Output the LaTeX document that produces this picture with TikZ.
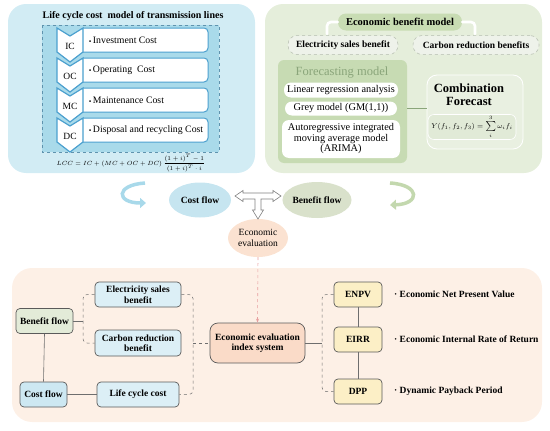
\documentclass[tikz,border=0pt]{standalone}
\usepackage{fontspec}
\setmainfont{Liberation Serif}
\usetikzlibrary{arrows.meta,shapes.geometric,calc}
\definecolor{panelblue}{HTML}{D2ECF4}
\definecolor{dashblue}{HTML}{A9DAEA}
\definecolor{dashline}{HTML}{5F93AE}
\definecolor{itemblue}{HTML}{4BA0CF}
\definecolor{panelgreen}{HTML}{E5EEDB}
\definecolor{fcgreen}{HTML}{C7DBB3}
\definecolor{pillgreen}{HTML}{C8DCB3}
\definecolor{subpill}{HTML}{EEF2EA}
\definecolor{subline}{HTML}{B5BDAF}
\definecolor{fctext}{HTML}{8AA57A}
\definecolor{cbfill}{HTML}{E9F0E1}
\definecolor{cbinner}{HTML}{E1EAD7}
\definecolor{peach}{HTML}{FDF0E6}
\definecolor{costell}{HTML}{C6E5F0}
\definecolor{beneell}{HTML}{D9E1CB}
\definecolor{evalell}{HTML}{FBE2D1}
\definecolor{arrowblue}{HTML}{A8D9EA}
\definecolor{arrowgreen}{HTML}{C3D8AE}
\definecolor{boxgray}{HTML}{5A5A5A}
\definecolor{bfbox}{HTML}{E3EBD8}
\definecolor{cfbox}{HTML}{CDE8F2}
\definecolor{lbbox}{HTML}{DCEFF6}
\definecolor{ixbox}{HTML}{FADBC8}
\definecolor{ylbox}{HTML}{FCEFC6}
\definecolor{pinkline}{HTML}{E7A0A0}
\definecolor{conngray}{HTML}{6E6E6E}
\newcommand{\myszA}{\fontsize{9.5}{10.5}\selectfont}
\newcommand{\myszB}{\fontsize{10.5}{12}\selectfont}
\newcommand{\myszC}{\fontsize{12.5}{13}\selectfont}
\newcommand{\myszD}{\fontsize{10}{11}\selectfont}
\newcommand{\myszE}{\fontsize{10.3}{10.5}\selectfont}
\newcommand{\myszF}{\fontsize{9.8}{10.5}\selectfont}
\begin{document}
\begin{tikzpicture}[x=1pt,y=-1pt,
  bx/.style={draw=boxgray, line width=0.7pt, rounded corners=4pt, font=\myszA\bfseries, align=center, inner sep=1pt},
  ell/.style={ellipse, inner sep=0pt, font=\myszA\bfseries, align=center},
  wbox/.style={fill=white, rounded corners=7pt, inner sep=1pt, font=\myszE, align=center},
  subp/.style={fill=subpill, draw=subline, dashed, line width=0.5pt, rounded corners=9pt, inner sep=1pt, font=\myszA\bfseries},
  dconn/.style={draw=conngray, dashed, line width=0.5pt, rounded corners=4pt},
  sconn/.style={draw=conngray, line width=0.6pt}
]
\useasboundingbox (0,0) rectangle (550,431);

% ---------- top-left panel ----------
\fill[panelblue, rounded corners=18pt] (8,4) rectangle (255,173);
\node[font=\myszD\bfseries] (lcctitle) at (133,16) {Life cycle cost\ \ model of transmission lines};
\filldraw[fill=dashblue, draw=dashline, dashed, line width=0.6pt] (42,25) rectangle (219,152);
\foreach \k/\ab/\txt in {0/IC/Investment Cost, 1/OC/Operating\ \ Cost, 2/MC/Maintenance Cost, 3/DC/Disposal and recycling Cost}{
  \pgfmathsetmacro{\yy}{28+30*\k}
  \filldraw[fill=white, draw=itemblue, line width=1pt, rounded corners=4pt]
    (83,\yy) -- (208,\yy) -- (208,\yy+24) -- (83,\yy+24);
  \filldraw[fill=white, draw=itemblue, line width=1.2pt, line join=miter]
    (57,\yy) -- (70,\yy+8) -- (83,\yy) -- (83,\yy+24) -- (70,\yy+34) -- (57,\yy+24) -- cycle;
  \node[font=\myszA] (ab\k) at (70,\yy+18) {\ab};
  \node[font=\myszF, anchor=west, inner sep=0pt] (it\k) at (89,\yy+12) {{\fontsize{6}{6}\selectfont ▪}\,\txt};
}
\node[inner sep=0pt] (lccf) at (131,163) {\fontsize{6.5}{7}\selectfont $LCC = IC + \left(MC + OC + DC\right)\displaystyle\frac{(1+i)^T-1}{(1+i)^T\cdot i}$};

% ---------- top-right panel ----------
\fill[panelgreen, rounded corners=18pt] (265,4) rectangle (542,173);
\node[fill=pillgreen, rounded corners=8pt, minimum width=124pt, minimum height=17pt, inner sep=1pt, font=\myszB\bfseries] (ebm) at (400,22) {Economic benefit model};
\node[subp, minimum width=110pt, minimum height=19pt] (esp) at (343,45) {Electricity sales benefit};
\node[subp, minimum width=126pt, minimum height=19pt] (crp) at (476,45) {Carbon reduction benefits};
\coordinate (brl) at (327,34);
\coordinate (brr) at (475,34);
\draw[white, line width=2.6pt, rounded corners=4pt, line cap=round] (ebm.west) -| (brl);
\draw[white, line width=2.6pt, rounded corners=4pt, line cap=round] (ebm.east) -| (brr);

\node[fill=fcgreen, rounded corners=6pt, minimum width=129pt, minimum height=103pt, inner sep=0pt] (fcp) at (342.5,111.5) {};
\node[text=fctext, font=\fontsize{12.5}{13}\selectfont, inner sep=0pt] (fct) at (342,73) {Forecasting model};
\node[wbox, minimum width=114pt, minimum height=15pt] (lra) at (341,90) {Linear regression analysis};
\node[wbox, minimum width=112pt, minimum height=14pt] (gm) at (341,108.5) {Grey model (GM(1,1))};
\node[wbox, minimum width=118pt, minimum height=38pt] (arima) at (341,139) {Autoregressive integrated\\moving average model\\(ARIMA)};

\node[fill=cbfill, draw=white, line width=0.8pt, rounded corners=10pt, minimum width=96pt, minimum height=74pt, inner sep=0pt] (cb) at (475,112) {};
\node[font=\myszC\bfseries, align=center, inner sep=0pt] (cbt) at (469,95) {Combination\\Forecast};
\node[fill=cbinner, draw=white, line width=0.6pt, rounded corners=6pt, minimum width=88pt, minimum height=25pt, inner sep=0pt] (cbf) at (472,127)
  {\fontsize{7.5}{8}\selectfont $Y(f_1,f_2,f_3)=\sum\limits_{i}^{3}\omega_i f_i$};
\draw[draw=fctext, line width=0.5pt] (fcp.east |- gm.east) -- (cb.west |- gm.east);

% ---------- middle ----------
\draw[arrowblue, line width=3.5pt, -{Triangle[length=6pt,width=10pt]}] (145,183) .. controls (115,185) and (116,203) .. (146,203);
\draw[arrowgreen, line width=3.5pt, -{Triangle[length=6pt,width=10pt]}] (390,183) .. controls (421,185) and (420,204) .. (390,205);
\node[ell, fill=costell, minimum width=62pt, minimum height=35pt] (cfe) at (200,200) {Cost flow};
\node[ell, fill=beneell, minimum width=64pt, minimum height=36pt] (bfe) at (317,200) {Benefit flow};
\node[ell, fill=evalell, minimum width=60pt, minimum height=38pt, font=\myszA] (eee) at (258,238) {Economic\\evaluation};
\filldraw[fill=white, draw=gray, line width=0.6pt, line join=miter]
  (235,196) -- (243,190.5) -- (243,193) -- (273,193) -- (273,190.5) -- (281,196) -- (273,201.5) -- (273,199)
  -- (261,199) -- (261,210) -- (263.5,210) -- (258,219) -- (252.5,210) -- (255,210) -- (255,199)
  -- (243,199) -- (243,201.5) -- cycle;

% ---------- bottom panel ----------
\fill[peach, rounded corners=20pt] (12,268) rectangle (542,422);
\node[bx, fill=bfbox, minimum width=57pt, minimum height=25pt] (bfb) at (44.5,321) {Benefit flow};
\node[bx, fill=cfbox, minimum width=47pt, minimum height=25pt] (cfb) at (43.5,394.5) {Cost flow};
\node[bx, fill=lbbox, minimum width=86pt, minimum height=25pt] (esb) at (138,294.5) {Electricity sales\\benefit};
\node[bx, fill=lbbox, minimum width=86pt, minimum height=26pt] (crb) at (138,343) {Carbon reduction\\benefit};
\node[bx, fill=lbbox, minimum width=82pt, minimum height=25pt] (lcb) at (138,394.5) {Life cycle cost};
\node[bx, fill=ixbox, rounded corners=8pt, minimum width=95pt, minimum height=40pt] (ixb) at (257.5,343) {Economic evaluation\\index system};
\node[bx, fill=ylbox, minimum width=48pt, minimum height=25pt] (enpv) at (358,294.5) {ENPV};
\node[bx, fill=ylbox, minimum width=48pt, minimum height=25pt] (eirr) at (358,339.5) {EIRR};
\node[bx, fill=ylbox, minimum width=48pt, minimum height=25pt] (dpp) at (358,391.5) {DPP};
\node[font=\myszA\bfseries, anchor=west, inner sep=0pt] (l1) at (394,294.5) {· Economic Net Present Value};
\node[font=\myszA\bfseries, anchor=west, inner sep=0pt] (l2) at (394,339.5) {· Economic Internal Rate of Return};
\node[font=\myszA\bfseries, anchor=west, inner sep=0pt] (l3) at (394,391.5) {· Dynamic Payback Period};

\draw[dashed, draw=pinkline, line width=0.6pt, -{Stealth[length=4pt,width=3pt]}] (eee.south) -- (ixb.north);

\coordinate (bj) at (83,321);
\coordinate (rj) at (193,343);
\coordinate (ej) at (322,343);
\draw[sconn] (bfb.east) -- (bj);
\draw[dconn] (esb.west) -| (bj) |- (crb.west);
\draw[sconn] (bfb.south) -- (cfb.north);
\draw[sconn] (cfb.east) -- (lcb.west);
\draw[dconn] (esb.east) -| (rj) |- (lcb.east);
\draw[dconn] (rj) -- (ixb.west);
\draw[sconn] (ixb.east) -- (ej);
\draw[dconn] (enpv.west) -| (ej) |- (dpp.west);
\draw[sconn] (enpv.south) -- (eirr.north);
\draw[sconn] (eirr.south) -- (dpp.north);
\end{tikzpicture}
\end{document}
